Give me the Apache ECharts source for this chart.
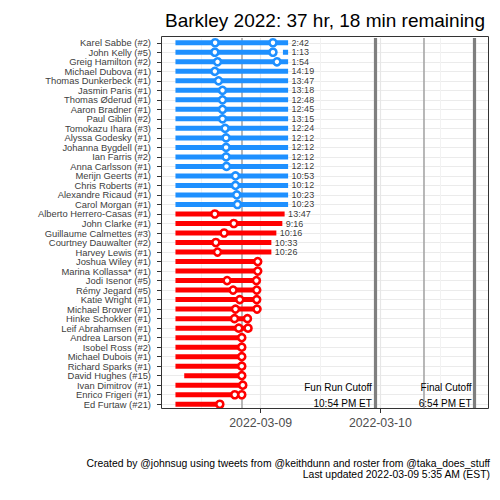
<!DOCTYPE html>
<html><head><meta charset="utf-8">
<script src="https://cdn.jsdelivr.net/npm/echarts@6/dist/echarts.min.js"></script>
<style>html,body{margin:0;padding:0;background:#fff}#c{width:500px;height:500px}</style>
</head><body><div id="c"></div>
<script>
// hours measured from 2022-03-08 00:00 ET
const runners = ['Karel Sabbe (#2)','John Kelly (#5)','Greig Hamilton (#2)','Michael Dubova (#1)','Thomas Dunkerbeck (#1)','Jasmin Paris (#1)','Thomas Øderud (#1)','Aaron Bradner (#1)','Paul Giblin (#2)','Tomokazu Ihara (#3)','Alyssa Godesky (#1)','Johanna Bygdell (#1)','Ian Farris (#2)','Anna Carlsson (#1)','Merijn Geerts (#1)','Chris Roberts (#1)','Alexandre Ricaud (#1)','Carol Morgan (#1)','Alberto Herrero-Casas (#1)','John Clarke (#1)','Guillaume Calmettes (#3)','Courtney Dauwalter (#2)','Harvey Lewis (#1)','Joshua Wiley (#1)','Marina Kollassa* (#1)','Jodi Isenor (#5)','Rémy Jegard (#5)','Katie Wright (#1)','Michael Brower (#1)','Hinke Schokker (#1)','Leif Abrahamsen (#1)','Andrea Larson (#1)','Isobel Ross (#2)','Michael Dubois (#1)','Richard Sparks (#1)','David Hughes (#15)','Ivan Dimitrov (#1)','Enrico Frigeri (#1)','Ed Furtaw (#21)'];
const onCourse = [true,true,true,true,true,true,true,true,true,true,true,true,true,true,true,true,true,true,false,false,false,false,false,false,false,false,false,false,false,false,false,false,false,false,false,false,false,false,false];
const segments = [
  [[6.9,29.5]],[[6.9,26.46],[28.46,29.5]],[[6.9,29.5]],[[6.9,29.5]],[[6.9,29.5]],[[6.9,29.5]],[[6.9,29.5]],[[6.9,29.5]],[[6.9,29.5]],[[6.9,29.5]],[[6.9,29.5]],[[6.9,29.5]],[[6.9,29.5]],[[6.9,29.5]],[[6.9,29.5]],[[6.9,29.5]],[[6.9,29.5]],[[6.9,29.5]],
  [[6.9,28.8]],[[6.9,28.34]],[[6.9,27.14]],[[6.9,26.14]],[[6.9,26.14]],[[6.9,23.4]],[[6.9,23.4]],[[6.9,23.14]],[[6.9,23.2]],[[6.9,23.2]],[[6.9,23.26]],[[6.9,21.34]],[[6.9,21.46]],[[6.9,20.2]],[[6.9,20.2]],[[6.9,20.2]],[[6.9,20.2]],[[8.66,20.2]],[[6.9,20.4]],[[6.9,20.2]],[[6.9,15.8]]
];
const splits = [
  [14.86,26.46],[14.8,26.46],[15.34,27.26],[14.8],[15.54],[16.34],[16.34],[16.34],[16.34],[16.86],[17.06],[17.06],[17.06],[17.14],[18.94],[18.94],[19.2],[19.34],
  [14.8],[18.6],[16.66],[15.0],[15.34],[23.4],[23.4],[17.26,23.14],[18.46,23.2],[19.8,23.2],[18.94,23.26],[18.74,21.34],[19.6,21.46],[20.2],[20.2],[20.2],[20.2],[20.2],[20.4],[18.8,20.2],[15.8]
];
const endLabels = ['2:42','1:13','1:54','14:19','13:47','13:18','12:48','12:45','13:15','12:24','12:12','12:12','12:12','12:12','10:53','10:12','10:23','10:23','13:47','9:16','10:16','10:33','10:26','','','','','','','','','','','','','','','',''];
const xTickHours = [24, 48];
const xTickLabels = ['2022-03-09', '2022-03-10'];
const majorGridHours = [24, 48];
const minorGridHours = [12, 36, 60];
const lapCutoffHours = [20.23, 56.8];
const cutoffHours = [46.9, 66.9];
const cutoffNames = ['Fun Run Cutoff', 'Final Cutoff'];
const cutoffTimes = ['10:54 PM ET', '6:54 PM ET'];
const titleText = 'Barkley 2022: 37 hr, 18 min remaining';
const captionLines = ['Created by @johnsug using tweets from @keithdunn and roster from @taka_does_stuff', 'Last updated 2022-03-09 5:35 AM (EST)'];

const BLUE = '#1E90FF', RED = '#FF0000';
const FONT = '"Liberation Sans", Arial, sans-serif';

const barData = [];
segments.forEach((segs, i) => segs.forEach(s => barData.push({value: [s[0], s[1], i], itemStyle: {color: onCourse[i] ? BLUE : RED}})));
const blueDots = [], redDots = [];
splits.forEach((arr, i) => arr.forEach(h => (onCourse[i] ? blueDots : redDots).push([h, i])));
const labelData = [];
endLabels.forEach((t, i) => { if (t) { const segs = segments[i]; labelData.push([segs[segs.length - 1][1], i, t]); } });

const gridLines = [];
runners.forEach(n => gridLines.push({yAxis: n, lineStyle: {type: 'solid', color: '#ebebeb', width: 1}}));
minorGridHours.forEach(h => gridLines.push({xAxis: h, lineStyle: {type: 'solid', color: '#f2f2f2', width: 1}}));
majorGridHours.forEach(h => gridLines.push({xAxis: h, lineStyle: {type: 'solid', color: '#e6e6e6', width: 1.2}}));
const refLines = [];
lapCutoffHours.forEach(h => refLines.push({xAxis: h, lineStyle: {type: 'solid', color: '#a6a6a6', width: 1.6}}));
cutoffHours.forEach(h => refLines.push({xAxis: h, lineStyle: {type: 'solid', color: '#7f7f7f', width: 3.2}}));

const chart = echarts.init(document.getElementById('c'), null, {renderer: 'svg'});
const option = {
  animation: false,
  textStyle: {fontFamily: FONT},
  title: {text: titleText, right: 10, top: 6, textStyle: {fontSize: 19, fontWeight: 'normal', color: '#000', fontFamily: FONT}},
  grid: {left: 161, right: 11, top: 38, height: 371},
  xAxis: {
    type: 'value', min: 4, max: 69.8,
    axisLine: {show: false}, splitLine: {show: false},
    axisTick: {show: true, customValues: xTickHours, length: 4, lineStyle: {color: '#333', width: 1}},
    axisLabel: {customValues: xTickHours, formatter: v => xTickLabels[xTickHours.indexOf(v)], fontSize: 12.3, color: '#4d4d4d', margin: 8, fontFamily: FONT}
  },
  yAxis: {
    type: 'category', inverse: true, data: runners,
    axisLine: {show: false}, splitLine: {show: false},
    axisTick: {show: true, alignWithLabel: true, interval: 0, length: 4, lineStyle: {color: '#333', width: 1}},
    axisLabel: {interval: 0, fontSize: 9.4, color: '#404040', margin: 10, fontFamily: FONT}
  },
  series: [
    {type: 'scatter', data: [], z: 1, silent: true,
     markLine: {z: 1, silent: true, symbol: ['none', 'none'], label: {show: false}, data: gridLines, animation: false}},
    {type: 'scatter', data: [], z: 2, silent: true,
     markLine: {z: 2, silent: true, symbol: ['none', 'none'], label: {show: false}, data: refLines, animation: false}},
    {type: 'custom', z: 10, silent: true, data: barData, encode: {x: [0, 1], y: 2},
     renderItem: (params, api) => {
       const y = api.value(2);
       const a = api.coord([api.value(0), y]);
       const b = api.coord([api.value(1), y]);
       const h = 5;
       return {type: 'rect', shape: {x: a[0], y: a[1] - h / 2, width: b[0] - a[0], height: h}, style: {fill: api.visual('color')}};
     }},
    {type: 'scatter', z: 11, silent: true, data: blueDots, symbol: 'circle', symbolSize: 7,
     itemStyle: {color: '#fff', borderColor: BLUE, borderWidth: 2.6, opacity: 1}},
    {type: 'scatter', z: 11, silent: true, data: redDots, symbol: 'circle', symbolSize: 7,
     itemStyle: {color: '#fff', borderColor: RED, borderWidth: 2.6, opacity: 1}},
    {type: 'scatter', z: 12, silent: true, data: labelData, symbolSize: 1, itemStyle: {color: 'rgba(0,0,0,0)'},
     label: {show: true, position: 'right', distance: 3, formatter: p => p.value[2], fontSize: 9, color: '#000', fontFamily: FONT}}
  ],
  graphic: [
    {type: 'rect', z: 20, silent: true, shape: {x: 161.5, y: 36.5, width: 327, height: 372}, style: {fill: null, stroke: '#333', lineWidth: 1}},
    {type: 'text', z: 20, silent: true, x: 490, y: 463.5, style: {text: captionLines[0], align: 'right', verticalAlign: 'middle', font: '10.4px ' + FONT, fill: '#000'}},
    {type: 'text', z: 20, silent: true, x: 490, y: 474.5, style: {text: captionLines[1], align: 'right', verticalAlign: 'middle', font: '10.4px ' + FONT, fill: '#000'}}
  ]
};
chart.setOption(option);

const extra = [];
cutoffHours.forEach((h, k) => {
  const px = chart.convertToPixel({xAxisIndex: 0}, h);
  extra.push({type: 'text', z: 20, silent: true, x: px - 3, y: 387.5, style: {text: cutoffNames[k], align: 'right', verticalAlign: 'middle', font: '10px ' + FONT, fill: '#000'}});
  extra.push({type: 'text', z: 20, silent: true, x: px - 3, y: 403, style: {text: cutoffTimes[k], align: 'right', verticalAlign: 'middle', font: '10px ' + FONT, fill: '#000'}});
});
chart.setOption({graphic: option.graphic.concat(extra)});
</script>
</body></html>
